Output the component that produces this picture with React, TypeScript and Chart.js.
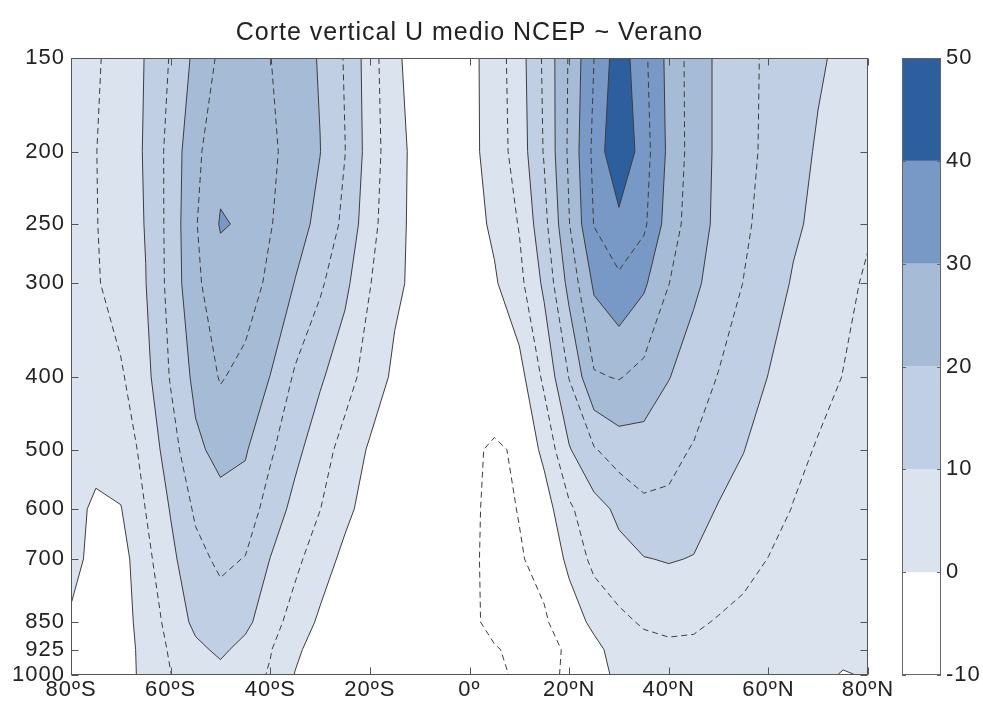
import React, { useEffect, useRef } from 'react';
import { Chart, registerables } from 'chart.js';

Chart.register(...registerables);

const TITLE = 'Corte vertical U medio NCEP ~ Verano';

const LATS = [-80, -75, -70, -65, -60, -55, -50, -45, -40, -35, -30, -25, -20, -15, -10, -5, 0, 5, 10, 15, 20, 25, 30, 35, 40, 45, 50, 55, 60, 65, 70, 75, 80];
const PRESSURE_LEVELS = [150, 200, 250, 300, 400, 500, 600, 700, 850, 925, 1000];

const LAT_TICKS = [-80, -60, -40, -20, 0, 20, 40, 60, 80];
const LAT_TICK_LABELS = ['80ºS', '60ºS', '40ºS', '20ºS', '0º', '20ºN', '40ºN', '60ºN', '80ºN'];
const COLORBAR_LEVELS = [-10, 0, 10, 20, 30, 40, 50];
const BAND_COLORS = ['#ffffff', '#dbe3ee', '#c0cfe3', '#a6bbd6', '#7898c5', '#2d5f9f'];
const SOLID_LEVELS = [0, 10, 20, 30, 40];
const DASHED_LEVELS = [-5, 5, 15, 25, 35, 45];

// zonal-mean U (m/s), one row per pressure level, lat -80 .. 80 every 5 deg
const U_150 = [2.0, 4.4, 7.2, 10.2, 15.4, 21.3, 26.0, 28.0, 25.1, 22.4, 19.6, 14.6, 7.5, 0.6, -1.5, -2.5, -1.5, 2.4, 7.8, 15.9, 25.5, 35.0, 43.0, 36.2, 28.5, 22.8, 19.0, 16.4, 14.2, 12.4, 10.6, 9.0, 7.5];
const U_200 = [3.0, 4.9, 7.5, 10.4, 16.8, 23.8, 28.5, 29.5, 26.0, 22.9, 20.1, 15.1, 7.8, 1.5, -1.5, -2.5, -1.5, 2.2, 7.3, 15.4, 25.9, 36.3, 45.0, 37.2, 28.9, 22.8, 19.0, 16.4, 14.0, 11.7, 9.5, 8.2, 7.0];
const U_250 = [3.0, 4.8, 7.4, 10.2, 16.8, 24.6, 30.4, 29.4, 25.3, 22.1, 18.6, 13.8, 6.8, 1.3, -1.5, -2.5, -2.0, 0.9, 5.3, 13.5, 24.8, 35.2, 38.5, 36.0, 27.6, 22.4, 18.8, 15.9, 13.2, 10.7, 9.0, 7.3, 5.5];
const U_300 = [2.5, 4.5, 7.2, 9.9, 16.7, 24.1, 27.8, 27.5, 23.9, 19.8, 15.8, 11.2, 5.2, 1.0, -1.5, -2.5, -2.5, -0.6, 3.6, 11.0, 21.6, 30.8, 34.0, 30.8, 25.1, 21.0, 17.8, 14.9, 12.1, 9.6, 7.9, 6.1, 4.4];
const U_400 = [3.0, 3.8, 4.4, 8.5, 15.4, 21.3, 25.4, 23.5, 19.9, 14.3, 10.7, 7.0, 2.9, -1.0, -2.0, -2.5, -3.0, -2.0, -1.8, 6.1, 15.2, 24.5, 25.3, 23.5, 20.2, 17.4, 14.8, 12.4, 9.9, 8.2, 6.6, 4.9, 3.5];
const U_500 = [2.5, 1.5, 2.7, 6.2, 12.8, 19.0, 21.5, 20.5, 15.8, 11.3, 7.2, 3.2, -0.6, -2.5, -3.0, -3.5, -4.2, -5.6, -4.4, 1.3, 9.6, 14.6, 17.5, 17.8, 16.2, 14.7, 12.3, 10.1, 8.2, 6.4, 4.6, 3.5, 2.5];
const U_600 = [1.5, -0.8, -0.2, 5.1, 10.3, 15.8, 18.3, 17.8, 12.9, 8.5, 5.1, 1.2, -2.0, -3.0, -3.5, -4.0, -3.8, -6.5, -4.8, -2.4, 4.2, 8.2, 11.0, 14.0, 14.2, 12.0, 9.7, 8.6, 7.0, 4.8, 3.5, 2.5, 2.0];
const U_700 = [1.0, -1.0, -2.0, 3.6, 8.8, 13.5, 16.0, 14.8, 9.9, 6.2, 2.3, -1.2, -3.0, -3.5, -4.0, -4.3, -4.0, -6.5, -5.4, -3.5, 1.0, 6.5, 8.6, 9.8, 10.3, 9.8, 8.3, 6.8, 4.9, 3.8, 2.8, 2.0, 1.6];
const U_850 = [-0.4, -1.5, -2.0, 2.0, 6.7, 11.2, 12.6, 11.2, 7.1, 2.9, -0.8, -2.5, -3.2, -3.5, -3.8, -4.2, -3.8, -6.5, -7.0, -5.6, -2.2, 1.0, 3.8, 5.6, 6.2, 5.8, 4.6, 3.5, 2.8, 2.2, 1.8, 1.4, 1.1];
const U_925 = [-2.0, -2.0, -2.2, 1.5, 5.6, 8.9, 10.9, 8.5, 5.3, 0.9, -2.2, -3.0, -3.5, -3.8, -4.0, -4.2, -4.0, -4.6, -6.2, -6.3, -4.4, -1.2, 1.8, 3.3, 4.0, 4.0, 3.6, 3.0, 2.5, 2.0, 1.6, 1.2, 1.0];
const U_1000 = [-2.5, -2.5, -2.0, 1.2, 4.9, 7.5, 8.6, 7.2, 4.5, -0.2, -2.5, -3.2, -3.5, -3.8, -4.0, -4.2, -4.2, -4.2, -5.6, -5.8, -4.5, -1.8, 1.0, 2.3, 2.8, 2.8, 2.5, 2.0, 1.6, 1.2, 1.0, -0.3, 0.3];

const U_ROWS = [U_150, U_200, U_250, U_300, U_400, U_500, U_600, U_700, U_850, U_925, U_1000];

const FONT_FAMILY = "'Liberation Sans', Arial, Helvetica, sans-serif";
const TEXT_COLOR = '#222222';
const LINE_COLOR = '#3d3d3d';
const AXIS_COLOR = '#555555';

type P = { x: number; y: number; v: number };
type H = { k: string; x: number; y: number };

function clipAbove(poly: P[], level: number): P[] {
  const out: P[] = [];
  for (let k = 0; k < poly.length; k++) {
    const a = poly[k];
    const b = poly[(k + 1) % poly.length];
    const aIn = a.v >= level;
    const bIn = b.v >= level;
    if (aIn) out.push(a);
    if (aIn !== bIn) {
      const t = (level - a.v) / (b.v - a.v);
      out.push({ x: a.x + t * (b.x - a.x), y: a.y + t * (b.y - a.y), v: level });
    }
  }
  return out;
}

function traceLevel(px: number[], py: number[], level: number): H[][] {
  const nI = px.length;
  const nJ = py.length;
  const hit = (i1: number, j1: number, i2: number, j2: number, key: string): H | null => {
    const va = U_ROWS[j1][i1];
    const vb = U_ROWS[j2][i2];
    if ((va >= level) === (vb >= level)) return null;
    const t = (level - va) / (vb - va);
    return { k: key, x: px[i1] + t * (px[i2] - px[i1]), y: py[j1] + t * (py[j2] - py[j1]) };
  };
  const segs: H[][] = [];
  for (let j = 0; j < nJ - 1; j++) {
    for (let i = 0; i < nI - 1; i++) {
      const e = [
        hit(i, j, i + 1, j, `h${i},${j}`),
        hit(i + 1, j, i + 1, j + 1, `v${i + 1},${j}`),
        hit(i, j + 1, i + 1, j + 1, `h${i},${j + 1}`),
        hit(i, j, i, j + 1, `v${i},${j}`),
      ];
      const got = e.filter((q) => q !== null) as H[];
      if (got.length === 2) segs.push(got);
      else if (got.length === 4) {
        const c1Below = U_ROWS[j][i + 1] < level;
        if (c1Below) {
          segs.push([e[0] as H, e[1] as H]);
          segs.push([e[2] as H, e[3] as H]);
        } else {
          segs.push([e[1] as H, e[2] as H]);
          segs.push([e[3] as H, e[0] as H]);
        }
      }
    }
  }
  const byKey = new Map<string, number[]>();
  segs.forEach((s, idx) => {
    for (const p of s) {
      const arr = byKey.get(p.k) || [];
      arr.push(idx);
      byKey.set(p.k, arr);
    }
  });
  const used = new Array(segs.length).fill(false);
  const lines: H[][] = [];
  for (let s = 0; s < segs.length; s++) {
    if (used[s]) continue;
    used[s] = true;
    const line: H[] = [segs[s][0], segs[s][1]];
    let endKey = segs[s][1].k;
    for (;;) {
      const cand = (byKey.get(endKey) || []).find((q) => !used[q]);
      if (cand === undefined) break;
      used[cand] = true;
      const other = segs[cand][0].k === endKey ? segs[cand][1] : segs[cand][0];
      line.push(other);
      endKey = other.k;
    }
    let startKey = segs[s][0].k;
    for (;;) {
      const cand = (byKey.get(startKey) || []).find((q) => !used[q]);
      if (cand === undefined) break;
      used[cand] = true;
      const other = segs[cand][0].k === startKey ? segs[cand][1] : segs[cand][0];
      line.unshift(other);
      startKey = other.k;
    }
    lines.push(line);
  }
  return lines;
}

const textSpacingPlugin = {
  id: 'textSpacing',
  beforeDraw(chart: any) {
    (chart.ctx as any).letterSpacing = '1px';
  },
  beforeLayout(chart: any) {
    (chart.ctx as any).letterSpacing = '1px';
  },
};

const contourPlugin = {
  id: 'contourField',
  beforeDatasetsDraw(chart: any) {
    const ctx: CanvasRenderingContext2D = chart.ctx;
    const area = chart.chartArea;
    const xs = chart.scales.x;
    const ys = chart.scales.y;
    const cb = chart.scales.cb;
    const px = LATS.map((l) => xs.getPixelForValue(l));
    const py = PRESSURE_LEVELS.map((p) => ys.getPixelForValue(p));
    const W = area.right - area.left;
    const Hh = area.bottom - area.top;

    ctx.save();
    ctx.beginPath();
    ctx.rect(area.left, area.top, W, Hh);
    ctx.clip();
    ctx.fillStyle = BAND_COLORS[0];
    ctx.fillRect(area.left, area.top, W, Hh);

    for (let b = 1; b < COLORBAR_LEVELS.length - 1; b++) {
      const level = COLORBAR_LEVELS[b];
      ctx.beginPath();
      for (let j = 0; j < PRESSURE_LEVELS.length - 1; j++) {
        for (let i = 0; i < LATS.length - 1; i++) {
          const cell: P[] = [
            { x: px[i], y: py[j], v: U_ROWS[j][i] },
            { x: px[i + 1], y: py[j], v: U_ROWS[j][i + 1] },
            { x: px[i + 1], y: py[j + 1], v: U_ROWS[j + 1][i + 1] },
            { x: px[i], y: py[j + 1], v: U_ROWS[j + 1][i] },
          ];
          const poly = clipAbove(cell, level);
          if (poly.length < 3) continue;
          ctx.moveTo(poly[0].x, poly[0].y);
          for (let k = 1; k < poly.length; k++) ctx.lineTo(poly[k].x, poly[k].y);
          ctx.closePath();
        }
      }
      ctx.fillStyle = BAND_COLORS[b];
      ctx.fill();
    }

    ctx.strokeStyle = LINE_COLOR;
    ctx.lineWidth = 1;
    ctx.lineJoin = 'round';
    const drawLevels = (levels: number[], dash: number[]) => {
      ctx.setLineDash(dash);
      for (const level of levels) {
        for (const line of traceLevel(px, py, level)) {
          ctx.beginPath();
          ctx.moveTo(line[0].x, line[0].y);
          for (let k = 1; k < line.length; k++) ctx.lineTo(line[k].x, line[k].y);
          ctx.stroke();
        }
      }
    };
    drawLevels(SOLID_LEVELS, []);
    drawLevels(DASHED_LEVELS, [6, 4]);
    ctx.restore();

    // frame and inward ticks
    ctx.save();
    ctx.strokeStyle = AXIS_COLOR;
    ctx.lineWidth = 1;
    ctx.setLineDash([]);
    const L0 = Math.round(area.left) + 0.5;
    const R0 = Math.round(area.right) - 0.5;
    const T0 = Math.round(area.top) + 0.5;
    const B0 = Math.round(area.bottom) - 0.5;
    ctx.strokeRect(L0, T0, R0 - L0, B0 - T0);
    const tl = 7;
    ctx.beginPath();
    for (const v of LAT_TICKS) {
      const x = Math.round(xs.getPixelForValue(v)) + 0.5;
      ctx.moveTo(x, B0);
      ctx.lineTo(x, B0 - tl);
      ctx.moveTo(x, T0);
      ctx.lineTo(x, T0 + tl);
    }
    for (const p of PRESSURE_LEVELS) {
      const y = Math.round(ys.getPixelForValue(p)) + 0.5;
      ctx.moveTo(L0, y);
      ctx.lineTo(L0 + tl, y);
      ctx.moveTo(R0, y);
      ctx.lineTo(R0 - tl, y);
    }
    ctx.stroke();

    // colorbar
    const cbLeft = Math.round(area.right) + 34;
    const cbW = 39;
    for (let b = 0; b < COLORBAR_LEVELS.length - 1; b++) {
      const y1 = cb.getPixelForValue(COLORBAR_LEVELS[b + 1]);
      const y0 = cb.getPixelForValue(COLORBAR_LEVELS[b]);
      ctx.fillStyle = BAND_COLORS[b];
      ctx.fillRect(cbLeft, y1, cbW, y0 - y1);
    }
    ctx.strokeStyle = '#666666';
    ctx.strokeRect(cbLeft + 0.5, T0, cbW - 1, B0 - T0);
    ctx.beginPath();
    for (const v of COLORBAR_LEVELS) {
      const y = Math.round(cb.getPixelForValue(v)) + 0.5;
      ctx.moveTo(cbLeft, y);
      ctx.lineTo(cbLeft + 4, y);
      ctx.moveTo(cbLeft + cbW, y);
      ctx.lineTo(cbLeft + cbW - 4, y);
    }
    ctx.stroke();
    ctx.restore();
  },
};

const zeroPadding = (s: any) => {
  s.paddingTop = 0;
  s.paddingBottom = 0;
  s.paddingLeft = 0;
  s.paddingRight = 0;
};

export default function App() {
  const ref = useRef<HTMLCanvasElement | null>(null);

  useEffect(() => {
    if (!ref.current) return;
    const gridPoints = PRESSURE_LEVELS.flatMap((p) => LATS.map((lat) => ({ x: lat, y: p })));
    const tickFont = { family: FONT_FAMILY, size: 22 };
    const chart = new Chart(ref.current, {
      type: 'scatter',
      data: {
        datasets: [
          {
            data: gridPoints,
            pointRadius: 0,
            pointHoverRadius: 0,
            showLine: false,
          },
        ],
      },
      options: {
        animation: false,
        responsive: false,
        maintainAspectRatio: false,
        events: [],
        layout: { padding: 0, autoPadding: false },
        plugins: {
          legend: { display: false },
          tooltip: { enabled: false },
          title: {
            display: true,
            text: TITLE,
            fullSize: false,
            color: TEXT_COLOR,
            font: { family: FONT_FAMILY, size: 25, weight: 'normal' },
            padding: { top: 18, bottom: 10 },
          },
        },
        scales: {
          x: {
            type: 'linear',
            position: 'bottom',
            min: -80,
            max: 80,
            grid: { display: false, drawTicks: false },
            border: { display: false },
            afterBuildTicks: (s: any) => {
              s.ticks = LAT_TICKS.map((v) => ({ value: v }));
            },
            afterFit: (s: any) => {
              s.height = 27;
              zeroPadding(s);
            },
            ticks: {
              autoSkip: false,
              maxRotation: 0,
              minRotation: 0,
              padding: 2,
              color: TEXT_COLOR,
              font: tickFont,
              callback: (v: any) => {
                const i = LAT_TICKS.indexOf(Number(v));
                return i >= 0 ? LAT_TICK_LABELS[i] : '';
              },
            },
          },
          y: {
            type: 'logarithmic',
            position: 'left',
            min: 150,
            max: 1000,
            reverse: true,
            grid: { display: false, drawTicks: false },
            border: { display: false },
            afterBuildTicks: (s: any) => {
              s.ticks = PRESSURE_LEVELS.map((v) => ({ value: v }));
            },
            afterFit: (s: any) => {
              s.width = 71;
              zeroPadding(s);
            },
            ticks: {
              autoSkip: false,
              padding: 6,
              color: TEXT_COLOR,
              font: tickFont,
              callback: (v: any) => String(v),
            },
          },
          cb: {
            type: 'linear',
            position: 'right',
            min: -10,
            max: 50,
            grid: { display: false, drawTicks: false },
            border: { display: false },
            afterBuildTicks: (s: any) => {
              s.ticks = COLORBAR_LEVELS.map((v) => ({ value: v }));
            },
            afterFit: (s: any) => {
              s.width = 115;
              zeroPadding(s);
            },
            ticks: {
              autoSkip: false,
              padding: 78,
              color: TEXT_COLOR,
              font: tickFont,
              callback: (v: any) => String(v),
            },
          },
        },
      } as any,
      plugins: [textSpacingPlugin, contourPlugin],
    });
    return () => chart.destroy();
  }, []);

  return (
    <div style={{ position: 'absolute', left: 0, top: 0, width: 983, height: 702, background: '#ffffff' }}>
      <canvas ref={ref} width={983} height={702} style={{ display: 'block', width: 983, height: 702 }} />
    </div>
  );
}
